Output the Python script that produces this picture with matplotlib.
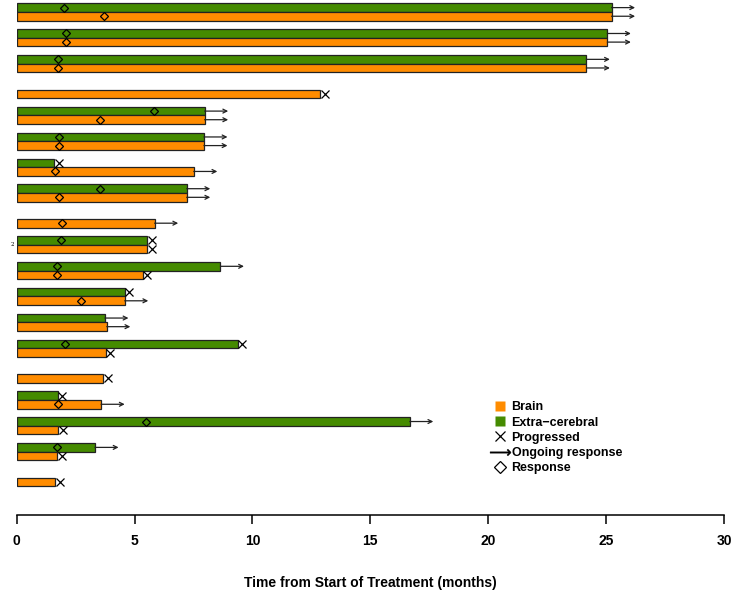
import numpy as np
import matplotlib.pyplot as plt
from matplotlib.lines import Line2D

plt.rcParams['font.family'] = ['Liberation Sans', 'DejaVu Sans']

nan = np.nan
# months from start of treatment, one row per patient (top to bottom), nan = no lesion
brain = [25.23, 25.05, 24.16, 12.88, 7.97, 7.94, 7.51, 7.21, 5.85, 5.54,
         5.34, 4.58, 3.82, 3.77, 3.68, 3.58, 1.77, 1.73, 1.64]
extra = [25.23, 25.05, 24.16, nan, 7.97, 7.94, 1.60, 7.21, nan, 5.54,
         8.64, 4.58, 3.74, 9.37, nan, 1.74, 16.67, 3.32, nan]
# O = ongoing response, P = progressed
brain_status = ['O', 'O', 'O', 'P', 'O', 'O', 'O', 'O', 'O', 'P',
                'P', 'O', 'O', 'P', 'P', 'O', 'P', 'P', 'P']
extra_status = ['O', 'O', 'O', '', 'O', 'O', 'P', 'O', '', 'P',
                'O', 'P', 'O', 'P', '', 'P', 'O', 'O', '']
# time of response
brain_resp = [3.69, 2.08, 1.74, nan, 3.53, 1.78, 1.61, 1.78, 1.94, nan,
              1.71, 2.71, nan, nan, nan, 1.75, nan, nan, nan]
extra_resp = [2.01, 2.08, 1.74, nan, 5.84, 1.78, nan, 3.53, nan, 1.88,
              1.71, nan, nan, 2.05, nan, nan, 5.47, 1.73, nan]

orange = '#FF8C00'
green = '#458B00'

fig = plt.figure(figsize=(7.35, 5.93), dpi=100)
ax = fig.add_axes([16.7 / 735, 78 / 593, 707.3 / 735, 515 / 593])

n = len(brain)
y_extra = np.arange(n) * 3 + 0.5
y_brain = np.arange(n) * 3 + 1.5

def draw(vals, status, resp, ys, col):
    for v, s, r, y in zip(vals, status, resp, ys):
        if np.isnan(v):
            continue
        ax.barh(y, v, height=1, left=0, color=col, edgecolor='#222222', lw=0.9)
        if s == 'P':
            ax.plot(v + 0.2, y, 'x', ms=5.5, mew=0.9, color='black')
        else:
            ax.annotate('', xy=(v + 1.0, y), xytext=(v, y),
                        arrowprops=dict(arrowstyle='->', lw=0.9, color='#222222',
                                        mutation_scale=7, shrinkA=0, shrinkB=0))
        if not np.isnan(r):
            ax.plot(r, y, 'D', ms=4.4, mfc='none', mec='black', mew=0.9)

draw(extra, extra_status, extra_resp, y_extra, green)
draw(brain, brain_status, brain_resp, y_brain, orange)

ax.set_xlim(0, 30)
ax.set_ylim(59.34, -0.383)
for s in ['top', 'right', 'left']:
    ax.spines[s].set_visible(False)
ax.spines['bottom'].set_linewidth(1.1)
ax.set_yticks([])
ax.set_xticks(np.arange(0, 31, 5))
ax.tick_params(axis='x', length=6.5, width=1.1, pad=7, labelsize=10)
for t in ax.get_xticklabels():
    t.set_fontweight('bold')
ax.set_xlabel('Time from Start of Treatment (months)', fontsize=10,
              fontweight='bold', labelpad=20)

handles = [
    Line2D([], [], ls='none', marker='s', ms=6.5, mfc=orange, mec='none', label='Brain'),
    Line2D([], [], ls='none', marker='s', ms=6.5, mfc=green, mec='none', label='Extra\u2212cerebral'),
    Line2D([], [], ls='none', marker='x', ms=7, mew=0.9, color='black', label='Progressed'),
    Line2D([], [], ls='none', marker=r'$\longrightarrow$', ms=15, color='black', mew=0.3,
           label='Ongoing response'),
    Line2D([], [], ls='none', marker='D', ms=6.5, mfc='none', mec='black', mew=0.9,
           label='Response'),
]
leg = fig.legend(handles=handles, loc='upper left', bbox_to_anchor=(486 / 735, 1 - 395 / 593),
                 frameon=False, borderpad=0, handlelength=1.3, handletextpad=0.25,
                 labelspacing=0.26, prop={'size': 9, 'weight': 'bold'})

fig.text(12 / 735, 1 - 244 / 593, '2', fontsize=4, family='DejaVu Serif',
         ha='center', va='center')

fig.savefig('out.png', dpi=100)
